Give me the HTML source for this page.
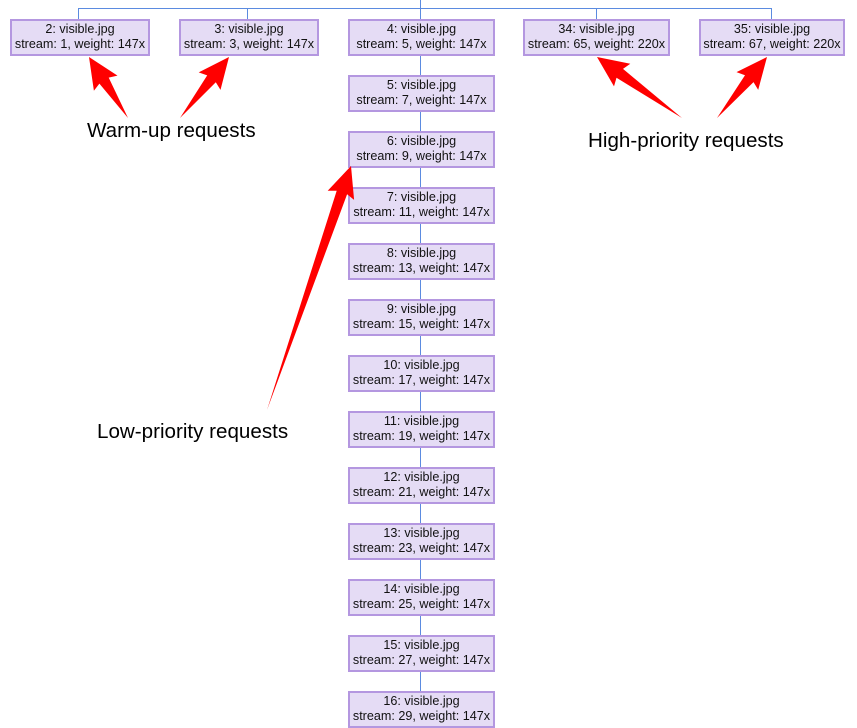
<!DOCTYPE html>
<html><head><meta charset="utf-8"><style>
body{margin:0;width:857px;height:710px;background:#fff;overflow:hidden;position:relative;font-family:"Liberation Sans",Arial,sans-serif}
.b{position:absolute;height:32px;background:#e5dcf5;border:2px solid #b497e0;font-size:12.6px;line-height:15px;text-align:center;color:#111;padding-top:1px;box-sizing:content-box;white-space:nowrap;overflow:hidden}
.l{position:absolute;font-size:20.6px;color:#000;white-space:nowrap}
svg{position:absolute;left:0;top:0}
</style></head><body>
<svg width="857" height="710" id="s">
<g stroke="#5b8be0" stroke-width="1" fill="none">
<line x1="78.5" y1="8.5" x2="771.5" y2="8.5"/>
<line x1="420.5" y1="0" x2="420.5" y2="710"/>
<line x1="78.5" y1="8" x2="78.5" y2="20"/>
<line x1="247.5" y1="8" x2="247.5" y2="20"/>
<line x1="596.5" y1="8" x2="596.5" y2="20"/>
<line x1="771.5" y1="8" x2="771.5" y2="20"/>
</g>
</svg>
<div class="b" style="left:10px;top:19px;width:136px">2: visible.jpg<br>stream: 1, weight: 147x</div>
<div class="b" style="left:179px;top:19px;width:136px">3: visible.jpg<br>stream: 3, weight: 147x</div>
<div class="b" style="left:523px;top:19px;width:143px">34: visible.jpg<br>stream: 65, weight: 220x</div>
<div class="b" style="left:699px;top:19px;width:142px">35: visible.jpg<br>stream: 67, weight: 220x</div>
<div id="c"></div>
<div class="l" style="left:87px;top:119px">Warm-up requests</div>
<div class="l" style="left:588px;top:129px">High-priority requests</div>
<div class="l" style="left:97px;top:420px">Low-priority requests</div>
<svg width="857" height="710" id="a"></svg>
<script>
var c=document.getElementById('c'),h='';
for(var i=0;i<13;i++){var n=4+i,st=5+2*i;h+='<div class="b" style="left:348px;top:'+(19+56*i)+'px;width:143px">'+n+': visible.jpg<br>stream: '+st+', weight: 147x</div>';}
c.innerHTML=h;
function arr(tx,ty,fx,fy){var dx=tx-fx,dy=ty-fy,L=Math.hypot(dx,dy),ux=dx/L,uy=dy/L,px=-uy,py=ux;
var HL=28,HW=14,NW=5.5;var bx=tx-ux*HL,by=ty-uy*HL;
var p=[[fx,fy],[bx+px*NW,by+py*NW],[bx+px*HW-ux*3,by+py*HW-uy*3],[tx,ty],[bx-px*HW-ux*3,by-py*HW-uy*3],[bx-px*NW,by-py*NW]];
return '<polygon fill="#ff0000" points="'+p.map(function(q){return q[0].toFixed(1)+','+q[1].toFixed(1)}).join(' ')+'"/>';}
document.getElementById('a').innerHTML=arr(89,57,128,118)+arr(229,57,180,118)+arr(597,57,682,118)+arr(767,57,717,118)+arr(351,166,267,410);
</script>
</body></html>
